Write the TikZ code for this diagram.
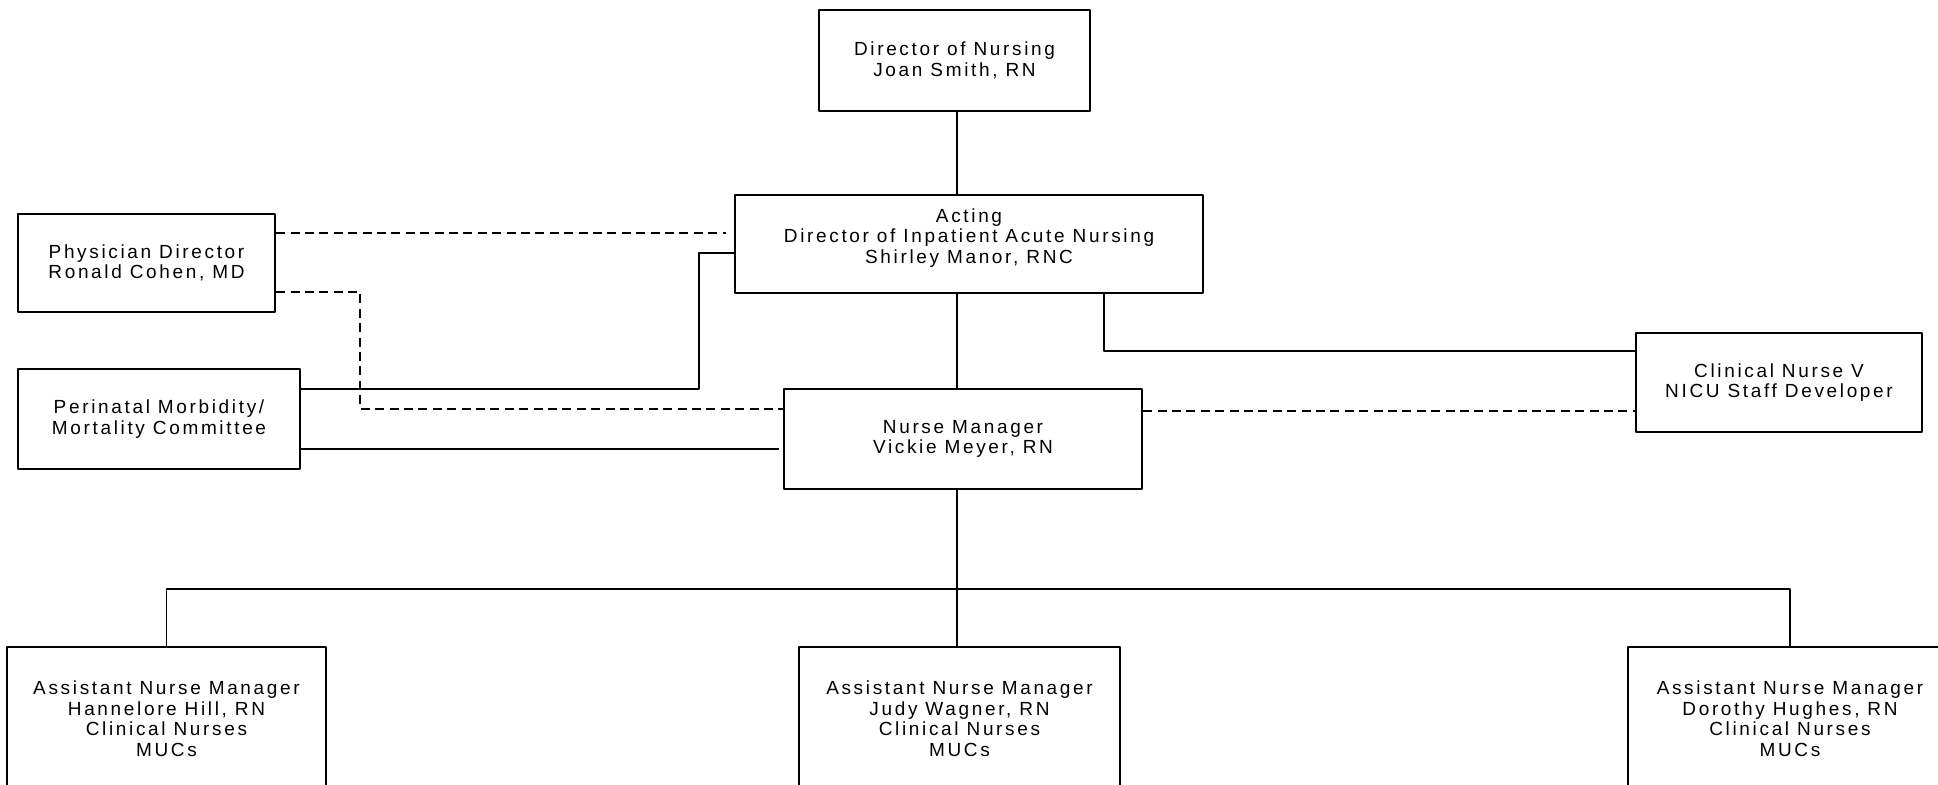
\documentclass[tikz,border=0pt]{standalone}
\usepackage{fontspec}
\newfontfamily\plotfont[LetterSpace=14]{Liberation Sans}
\begin{document}
\begin{tikzpicture}[x=0.5pt,y=-0.5pt,line join=round,
	box/.style={draw,line width=1.1pt,align=center,inner sep=0pt,
		font=\plotfont\fontsize{9.5}{10.25}\selectfont},
	link/.style={line width=0.9pt},
	dashlink/.style={line width=0.9pt,dash pattern=on 4.5pt off 2.7pt}]
	\useasboundingbox (0,0) rectangle (1938,785);
	\clip (0,0) rectangle (1938,785);
	% boxes
	\node[box,minimum width=135.5pt,minimum height=50.5pt] (dir) at (954.5,60.5)
		{Director of Nursing\\Joan Smith, RN};
	\node[box,minimum width=234pt,minimum height=49pt,text depth=8pt] (act) at (969,244)
		{Acting\\Director of Inpatient Acute Nursing\\Shirley Manor, RNC};
	\node[box,minimum width=128.5pt,minimum height=49pt] (phys) at (146.5,263)
		{Physician Director\\Ronald Cohen, MD};
	\node[box,minimum width=141pt,minimum height=50pt] (peri) at (159,419)
		{Perinatal Morbidity/\\Mortality Committee};
	\node[box,minimum width=179pt,minimum height=50pt] (nm) at (963,439)
		{Nurse Manager\\Vickie Meyer, RN};
	\node[box,minimum width=143pt,minimum height=49.5pt] (cnv) at (1779,382.5)
		{Clinical Nurse V\\NICU Staff Developer};
	\node[box,minimum width=159.5pt,minimum height=71.5pt] (anm1) at (166.5,718.5)
		{Assistant Nurse Manager\\Hannelore Hill, RN\\Clinical Nurses\\MUCs};
	\node[box,minimum width=160.5pt,minimum height=71.5pt] (anm2) at (959.5,718.5)
		{Assistant Nurse Manager\\Judy Wagner, RN\\Clinical Nurses\\MUCs};
	\node[box,minimum width=162pt,minimum height=71.5pt] (anm3) at (1790,718.5)
		{Assistant Nurse Manager\\Dorothy Hughes, RN\\Clinical Nurses\\MUCs};
	\path
	(957,0) coordinate(spine)
	(957,589) coordinate(bus)
	(699,389) coordinate(k1)
	(360,409) coordinate(k2)
	;
	% solid lines
	\draw[link] (spine |- dir.south)--(spine |- act.north);
	\draw[link] (spine |- act.south)--(spine |- nm.north);
	\draw[link] (spine |- nm.south)--(spine |- anm2.north);
	\draw[link] (anm1.north) |- (bus) -| (anm3.north);
	\draw[link] ([yshift=-4.5pt]act.west) -| (k1) -- (k1 -| peri.east);
	\draw[link,shorten >=2pt] ([yshift=-15pt]peri.east)--([yshift=-15pt]peri.east -| nm.west);
	\draw[link] ([xshift=67.5pt]act.south) |- ([yshift=15.75pt]cnv.west);
	% dashed lines
	\draw[dashlink,shorten >=4pt] ([yshift=15pt]phys.east)--([yshift=15pt]phys.east -| act.west);
	\draw[dashlink] ([yshift=-14.5pt]phys.east) -| (k2) -- (k2 -| nm.west);
	\draw[dashlink] ([yshift=14pt]nm.east)--([yshift=14pt]nm.east -| cnv.west);
\end{tikzpicture}
\end{document}
